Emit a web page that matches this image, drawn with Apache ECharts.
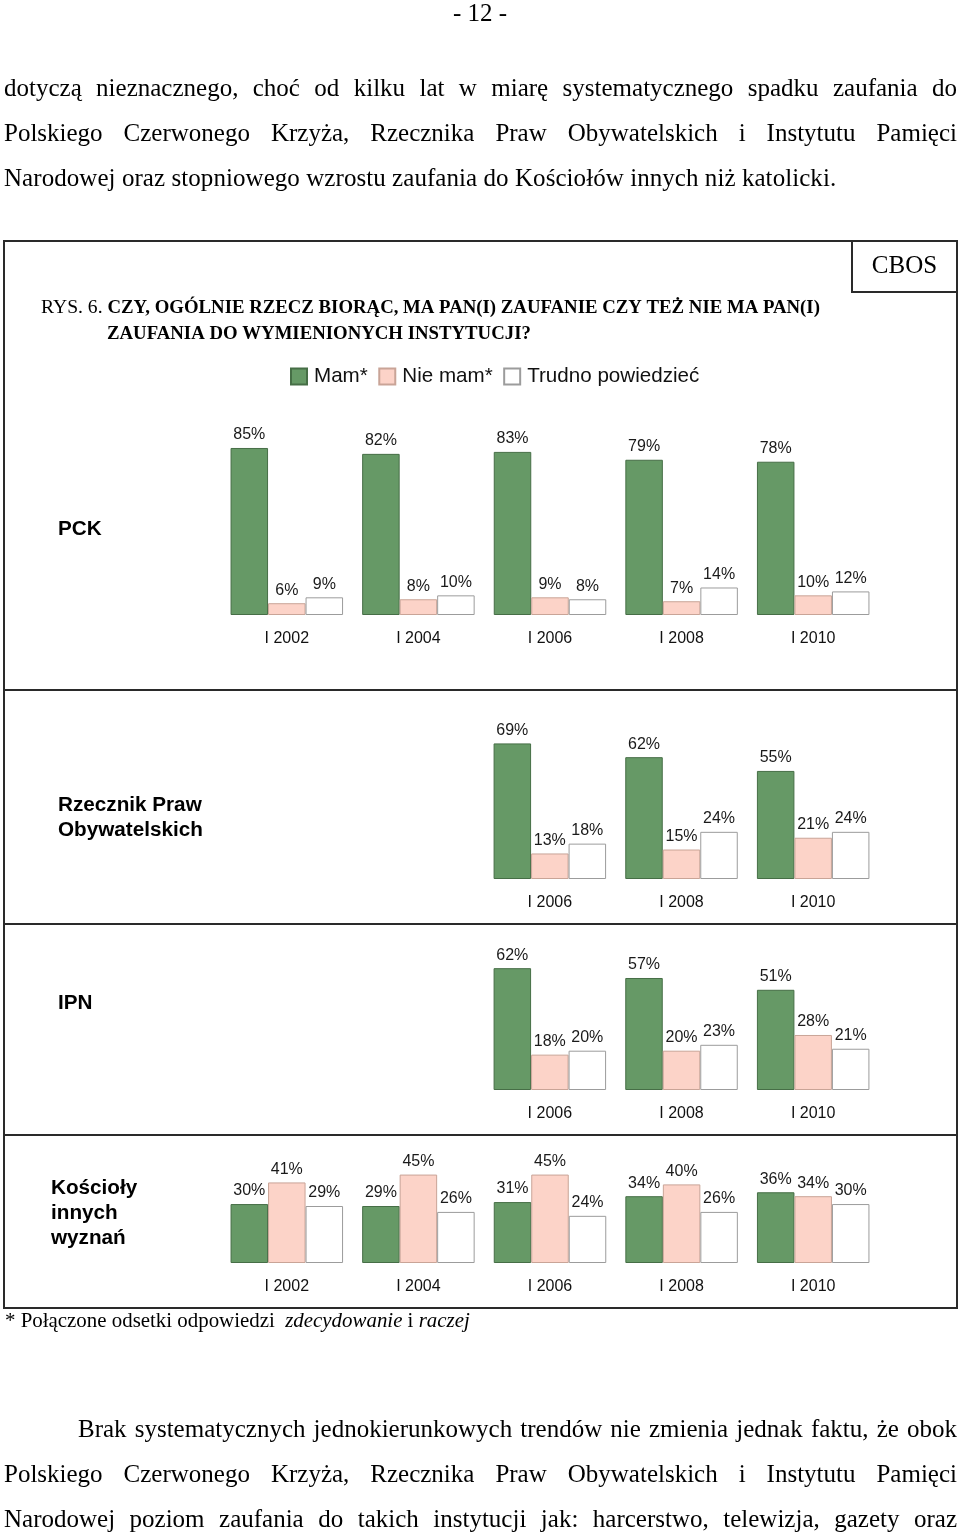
<!DOCTYPE html>
<html>
<head>
<meta charset="utf-8">
<script src="https://cdn.jsdelivr.net/npm/echarts@6/dist/echarts.min.js"></script>
<style>
  html, body { margin: 0; padding: 0; background: #fff; }
  #page { position: relative; width: 960px; height: 1533px; overflow: hidden; }
  #chart { position: absolute; left: 0; top: 0; width: 960px; height: 1533px; }
  .ln { position: absolute; font-family: "Liberation Serif", "Times New Roman", serif; font-size: 25px;
        line-height: 45px; height: 45px; white-space: nowrap; color: #000; }
  .j { text-align: justify; text-align-last: justify; white-space: normal; }
</style>
</head>
<body>
<div id="page">
  <div id="chart"></div>
  <div class="ln" style="left:0;width:960px;top:-10px;text-align:center;">- 12 -</div>
  <div class="ln j" style="left:4px;width:953px;top:65px;">dotyczą nieznacznego, choć od kilku lat w miarę systematycznego spadku zaufania do</div>
  <div class="ln j" style="left:4px;width:953px;top:110px;">Polskiego Czerwonego Krzyża, Rzecznika Praw Obywatelskich i Instytutu Pamięci</div>
  <div class="ln" style="left:4px;top:155px;letter-spacing:0.06px;">Narodowej oraz stopniowego wzrostu zaufania do Kościołów innych niż katolicki.</div>
  <div class="ln j" style="left:78px;width:879px;top:1406px;">Brak systematycznych jednokierunkowych trendów nie zmienia jednak faktu, że obok</div>
  <div class="ln j" style="left:4px;width:953px;top:1451px;">Polskiego Czerwonego Krzyża, Rzecznika Praw Obywatelskich i Instytutu Pamięci</div>
  <div class="ln j" style="left:4px;width:953px;top:1496px;">Narodowej poziom zaufania do takich instytucji jak: harcerstwo, telewizja, gazety oraz</div>
</div>
<script>
// ---- data ----
const categoriesAll = ['I 2002', 'I 2004', 'I 2006', 'I 2008', 'I 2010'];
const categoriesLate = ['I 2006', 'I 2008', 'I 2010'];
const seriesNames = ['Mam*', 'Nie mam*', 'Trudno powiedzieć'];
const rowLabels = ['PCK', 'Rzecznik Praw\nObywatelskich', 'IPN', 'Kościoły\ninnych\nwyznań'];

const pckMam = [85, 82, 83, 79, 78];
const pckNie = [6, 8, 9, 7, 10];
const pckTrudno = [9, 10, 8, 14, 12];

const rpoMam = [69, 62, 55];
const rpoNie = [13, 15, 21];
const rpoTrudno = [18, 24, 24];

const ipnMam = [62, 57, 51];
const ipnNie = [18, 20, 28];
const ipnTrudno = [20, 23, 21];

const kosMam = [30, 29, 31, 34, 36];
const kosNie = [41, 45, 45, 40, 34];
const kosTrudno = [29, 26, 24, 26, 30];

// ---- styles ----
const SANS = '"Liberation Sans", Arial, sans-serif';
const SERIF = '"Liberation Serif", "Times New Roman", serif';
const styles = [
  { color: '#669966', borderColor: '#466e46', borderWidth: 1 },
  { color: '#fcd3c8', borderColor: '#c9a497', borderWidth: 1 },
  { color: '#ffffff', borderColor: '#9c9c9c', borderWidth: 1 }
];

const panels = [
  { cats: categoriesAll, data: [pckMam, pckNie, pckTrudno], left: 221, width: 658, bottom: 615 },
  { cats: categoriesLate, data: [rpoMam, rpoNie, rpoTrudno], left: 484, width: 395, bottom: 879 },
  { cats: categoriesLate, data: [ipnMam, ipnNie, ipnTrudno], left: 484, width: 395, bottom: 1090 },
  { cats: categoriesAll, data: [kosMam, kosNie, kosTrudno], left: 221, width: 658, bottom: 1263 }
];
const GH = 196.5;

const grid = [], xAxis = [], yAxis = [], series = [];
panels.forEach((p, i) => {
  grid.push({ left: p.left, width: p.width, top: p.bottom - GH, height: GH });
  xAxis.push({
    type: 'category', gridIndex: i, data: p.cats,
    axisLine: { show: false }, axisTick: { show: false },
    axisLabel: { fontSize: 16, color: '#111', fontFamily: SANS, margin: 15.5 }
  });
  yAxis.push({ type: 'value', gridIndex: i, min: 0, max: 100, show: false, splitLine: { show: false } });
  p.data.forEach((arr, k) => {
    series.push({
      type: 'bar', name: seriesNames[k], xAxisIndex: i, yAxisIndex: i,
      data: arr, barWidth: 37.5, barGap: '0%',
      itemStyle: styles[k],
      label: { show: true, position: 'top', distance: 5, formatter: '{c}%', fontSize: 16, color: '#1a1a1a', fontFamily: SANS },
      emphasis: { disabled: true }, animation: false
    });
  });
});

const LINE = { stroke: '#2a2a2a', lineWidth: 2 };
const graphic = [
  { type: 'rect', shape: { x: 4, y: 241, width: 953, height: 1067 }, style: { fill: 'none', stroke: '#2a2a2a', lineWidth: 2 } },
  { type: 'rect', shape: { x: 852, y: 241, width: 105, height: 51 }, style: { fill: 'none', stroke: '#2a2a2a', lineWidth: 2 } },
  { type: 'line', shape: { x1: 4, y1: 690, x2: 957, y2: 690 }, style: LINE },
  { type: 'line', shape: { x1: 4, y1: 924, x2: 957, y2: 924 }, style: LINE },
  { type: 'line', shape: { x1: 4, y1: 1135, x2: 957, y2: 1135 }, style: LINE },
  { type: 'text', x: 904.5, y: 266, style: { text: 'CBOS', font: '25px ' + SERIF, fill: '#000', align: 'center', verticalAlign: 'middle' } },
  { type: 'text', x: 41, y: 308, style: {
      text: '{r|RYS. 6. }{b|CZY, OGÓLNIE RZECZ BIORĄC, MA PAN(I) ZAUFANIE CZY TEŻ NIE MA PAN(I)}',
      verticalAlign: 'middle',
      rich: {
        r: { fontFamily: SERIF, fontSize: 19.6, fill: '#000', color: '#000' },
        b: { fontFamily: SERIF, fontSize: 18.8, fontWeight: 'bold', fill: '#000', color: '#000' }
      } } },
  { type: 'text', x: 107, y: 334, style: { text: 'ZAUFANIA DO WYMIENIONYCH INSTYTUCJI?', font: 'bold 18.8px ' + SERIF, fill: '#000', verticalAlign: 'middle' } },
  { type: 'text', x: 58, y: 529, style: { text: rowLabels[0], font: 'bold 20.7px ' + SANS, fill: '#000', verticalAlign: 'middle' } },
  { type: 'text', x: 58, y: 817.5, style: { text: rowLabels[1], font: 'bold 20.7px ' + SANS, lineHeight: 25, fill: '#000', verticalAlign: 'middle' } },
  { type: 'text', x: 58, y: 1003, style: { text: rowLabels[2], font: 'bold 20.7px ' + SANS, fill: '#000', verticalAlign: 'middle' } },
  { type: 'text', x: 51, y: 1213, style: { text: rowLabels[3], font: 'bold 20.7px ' + SANS, lineHeight: 25, fill: '#000', verticalAlign: 'middle' } },
  { type: 'text', x: 5, y: 1322, style: {
      text: '{n|* Połączone odsetki odpowiedzi  }{i|zdecydowanie}{n| i }{i|raczej}',
      verticalAlign: 'middle',
      rich: {
        n: { fontFamily: SERIF, fontSize: 20.9, fill: '#000', color: '#000' },
        i: { fontFamily: SERIF, fontSize: 20.9, fontStyle: 'italic', fill: '#000', color: '#000' }
      } } }
];

const chart = echarts.init(document.getElementById('chart'), null, { renderer: 'canvas' });
chart.setOption({
  backgroundColor: '#ffffff',
  animation: false,
  legend: {
    data: seriesNames, left: 290, top: 366, padding: 0,
    icon: 'rect', itemWidth: 16, itemHeight: 16, itemGap: 10.5,
    textStyle: { fontSize: 20.6, color: '#111', fontFamily: SANS, padding: [0, 0, 0, 2] },
    selectedMode: false
  },
  grid, xAxis, yAxis, series, graphic
});
</script>
</body>
</html>
